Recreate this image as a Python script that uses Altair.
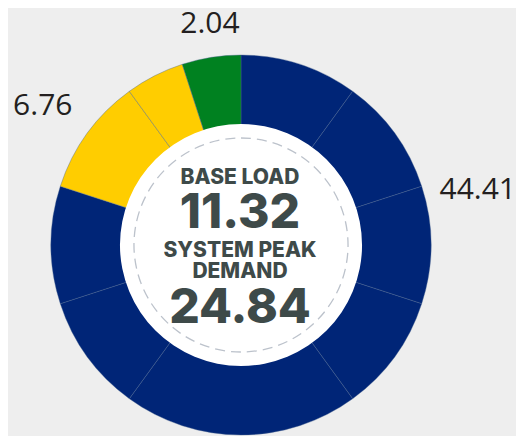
import math
import altair as alt
import pandas as pd

# ---------------- data ----------------
groups = ["Blue", "Yellow", "Green"]
group_totals = [44.41, 6.76, 2.04]

# ring segments, clockwise from 12 o'clock (size in ring units)
segment_group = ["Blue", "Blue", "Blue", "Blue", "Blue", "Blue", "Blue",
                 "Yellow", "Yellow", "Green"]
segment_units = [2, 2, 2, 2, 4, 2, 2, 2, 1, 1]

center_titles = ["BASE LOAD", "SYSTEM PEAK\nDEMAND"]
center_values = [11.32, 24.84]

# ---------------- style / placement ----------------
colors = ["#002577", "#ffcd00", "#008120"]
label_angle_deg = [77, 305, 352]
label_radius = [243, 242, 223]

W, H = 508, 428
CX, CY = 233, 237
R_OUT, R_IN = 190, 121
TEXT_DARK = "#3e4a49"

seg_df = pd.DataFrame({
    "group": segment_group,
    "units": segment_units,
    "order": list(range(len(segment_units))),
})

arcs = alt.Chart(seg_df).mark_arc(
    outerRadius=R_OUT, innerRadius=R_IN - 3, stroke="#4a6690", strokeWidth=0.4
).encode(
    x=alt.value(CX), y=alt.value(CY),
    theta=alt.Theta("units:Q", stack=True),
    order=alt.Order("order:Q"),
    color=alt.Color("group:N", scale=alt.Scale(domain=groups, range=colors), legend=None),
)

one = pd.DataFrame({"k": [0]})
hole = alt.Chart(one).mark_arc(
    outerRadius=R_IN, innerRadius=0, theta=0, theta2=2 * math.pi, fill="white"
).encode(x=alt.value(CX), y=alt.value(CY))

dashed = alt.Chart(one).mark_arc(
    outerRadius=107, innerRadius=0, theta=0, theta2=2 * math.pi,
    fillOpacity=0, stroke="#bcc2cb", strokeWidth=1.3, strokeDash=[10, 6]
).encode(x=alt.value(CX), y=alt.value(CY))

lab_df = pd.DataFrame({
    "text": [f"{v:.2f}" for v in group_totals],
    "theta": [math.radians(a) for a in label_angle_deg],
    "r": label_radius,
})
labels = alt.Chart(lab_df).mark_text(
    font="Open Sans", fontSize=30, color="#231f20", align="center", baseline="middle"
).encode(
    x=alt.value(CX), y=alt.value(CY),
    theta=alt.Theta("theta:Q", scale=None),
    radius=alt.Radius("r:Q", scale=None),
    text="text:N",
)

def ctext(txt, size, dy):
    return alt.Chart(pd.DataFrame({"t": [txt]})).mark_text(
        font="Inter", fontWeight=800, fontSize=size, color=TEXT_DARK,
        align="center", baseline="middle", dy=dy
    ).encode(x=alt.value(CX - 1), y=alt.value(CY), text="t:N")

title2 = center_titles[1].split("\n")
center = (
    ctext(center_titles[0], 21, -67)
    + ctext(f"{center_values[0]:.2f}", 48, -31)
    + ctext(title2[0], 21, 6)
    + ctext(title2[1], 21, 27)
    + ctext(f"{center_values[1]:.2f}", 48, 64)
)

chart = alt.layer(arcs, hole, dashed, labels, center).resolve_scale(
    theta="independent", radius="independent"
).properties(
    width=W, height=H, autosize=alt.AutoSizeParams(type="none"), padding=0,
    background="#eeeeee"
).configure_view(stroke=None)

chart.save("out.html", embed_options={"renderer": "svg", "actions": False})
